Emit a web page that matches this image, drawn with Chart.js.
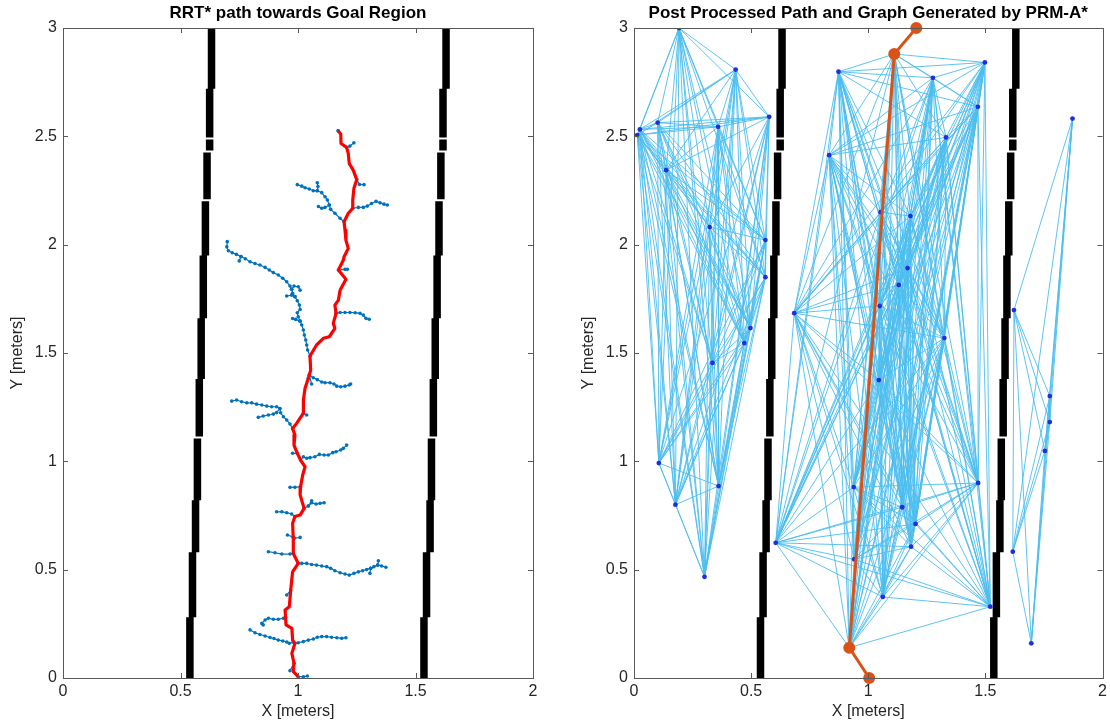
<!DOCTYPE html>
<html>
<head>
<meta charset="utf-8">
<script src="https://cdn.jsdelivr.net/npm/chart.js@4.4.1/dist/chart.umd.min.js"></script>
<style>
  body { margin: 0; background: #fff; }
  #wrap { position: relative; width: 1110px; height: 725px; }
  .pane { position: absolute; top: 0; width: 555px; height: 725px; }
</style>
</head>
<body>
<div id="wrap">
  <div class="pane" style="left:0"><canvas id="rrtChart" width="555" height="725"></canvas></div>
  <div class="pane" style="left:555px"><canvas id="prmChart" width="555" height="725"></canvas></div>
</div>
<script>
// ---- axes ----
var xTicks = [0, 0.5, 1, 1.5, 2];
var yTicks = [0, 0.5, 1, 1.5, 2, 2.5, 3];

// ---- obstacle walls (same map in both plots) ----
var wallSpans = [[2.72, 3.0], [2.495, 2.72], [2.435, 2.485], [2.21, 2.425], [1.95, 2.2],
                 [1.66, 1.95], [1.38, 1.66], [1.115, 1.38], [0.82, 1.105], [0.58, 0.82],
                 [0.28, 0.58], [0, 0.28]];
var wallLeftX  = [0.632, 0.624, 0.624, 0.613, 0.606, 0.597, 0.588, 0.580, 0.572, 0.564, 0.551, 0.540];
var wallRightX = [1.630, 1.617, 1.617, 1.608, 1.600, 1.592, 1.584, 1.576, 1.568, 1.562, 1.547, 1.536];

// ---- RRT* (left plot) ----
var rrtPath = [[1.171,2.526],[1.182,2.51],[1.183,2.467],[1.207,2.449],[1.214,2.42],[1.218,2.375],
  [1.235,2.344],[1.25,2.30],[1.238,2.26],[1.233,2.206],[1.233,2.168],[1.214,2.145],[1.196,2.106],
  [1.2,2.067],[1.204,2.02],[1.214,1.983],[1.196,1.944],[1.193,1.929],[1.172,1.883],[1.204,1.84],
  [1.179,1.79],[1.172,1.744],[1.157,1.721],[1.162,1.683],[1.15,1.637],[1.157,1.614],[1.133,1.575],
  [1.108,1.568],[1.079,1.537],[1.051,1.486],[1.054,1.421],[1.044,1.383],[1.03,1.337],[1.023,1.283],
  [1.023,1.222],[0.994,1.175],[0.977,1.152],[0.987,1.121],[0.983,1.075],[0.997,1.037],[1.011,1.006],
  [1.03,0.975],[1.02,0.937],[1.011,0.883],[1.009,0.845],[1.026,0.783],[1.009,0.752],[0.987,0.745],
  [0.977,0.714],[0.98,0.637],[0.98,0.575],[1.001,0.529],[0.977,0.49],[0.969,0.406],[0.963,0.329],
  [0.945,0.314],[0.949,0.245],[0.974,0.229],[0.977,0.175],[0.987,0.16],[0.974,0.114],[0.983,0.068],
  [0.98,0.029],[1.001,0.006]];

var rrtBranches = [
  [[1.171,2.526],[1.171,2.526]],
  [[1.207,2.449],[1.221,2.455],[1.238,2.47]],
  [[1.25,2.30],[1.262,2.278],[1.281,2.277]],
  [[1.233,2.168],[1.257,2.172],[1.278,2.172],[1.295,2.178],[1.313,2.19],[1.332,2.2],[1.349,2.193],[1.366,2.187],[1.38,2.183]],
  [[1.196,2.106],[1.179,2.122],[1.157,2.145],[1.139,2.163],[1.133,2.183],[1.125,2.206],[1.115,2.221],[1.101,2.24],
   [1.082,2.249],[1.065,2.249],[1.048,2.257],[1.03,2.263],[1.016,2.27],[0.997,2.277]],
  [[1.082,2.249],[1.085,2.268],[1.082,2.286]],
  [[1.133,2.183],[1.115,2.172],[1.101,2.168],[1.087,2.176]],
  [[1.051,1.486],[1.041,1.514],[1.037,1.537],[1.033,1.56],[1.027,1.583],[1.023,1.606],[1.016,1.629],[1.009,1.647],
   [1.001,1.667],[0.997,1.686],[1.009,1.701],[1.006,1.721],[0.997,1.741],[0.987,1.76],[0.977,1.776],[0.973,1.794],
   [0.966,1.809],[0.952,1.829],[0.935,1.845],[0.916,1.86],[0.895,1.871],[0.878,1.883],[0.86,1.895],[0.838,1.906],
   [0.817,1.913],[0.796,1.921],[0.776,1.935],[0.757,1.945],[0.738,1.955],[0.72,1.963],[0.704,1.972],[0.697,1.99],[0.699,2.014]],
  [[0.757,1.945],[0.75,1.925]],
  [[0.973,1.794],[0.983,1.809],[1.001,1.806],[1.009,1.79]],
  [[0.987,1.76],[0.973,1.767],[0.952,1.763]],
  [[1.009,1.647],[0.99,1.655],[0.977,1.659]],
  [[1.162,1.683],[1.179,1.687],[1.2,1.687],[1.221,1.687],[1.243,1.686],[1.264,1.683],[1.278,1.675],[1.289,1.66],[1.303,1.656]],
  [[1.172,1.883],[1.2,1.886],[1.21,1.886]],
  [[1.044,1.383],[1.048,1.398],[1.065,1.386],[1.082,1.377],[1.101,1.366],[1.115,1.363],[1.136,1.363],[1.153,1.357],
   [1.165,1.347],[1.182,1.344],[1.2,1.347],[1.218,1.352],[1.224,1.357]],
  [[1.048,1.398],[1.058,1.357]],
  [[0.977,1.152],[0.966,1.172],[0.952,1.191],[0.938,1.206],[0.926,1.224],[0.923,1.244],[0.909,1.252],[0.888,1.252],
   [0.867,1.255],[0.846,1.26],[0.824,1.264],[0.803,1.27],[0.782,1.27],[0.76,1.275],[0.739,1.283],[0.718,1.278]],
  [[0.923,1.244],[0.909,1.225],[0.895,1.218],[0.874,1.214],[0.852,1.209],[0.831,1.203]],
  [[1.023,1.222],[1.037,1.214]],
  [[1.011,1.006],[1.023,1.021],[1.037,1.014],[1.051,1.017],[1.072,1.021],[1.091,1.032],[1.111,1.029],[1.129,1.029],
   [1.148,1.04],[1.162,1.044],[1.182,1.052],[1.193,1.06],[1.207,1.075]],
  [[0.997,1.037],[0.977,1.037]],
  [[1.011,0.883],[0.987,0.88],[0.966,0.88]],
  [[1.026,0.783],[1.044,0.794],[1.058,0.809],[1.077,0.803],[1.094,0.806],[1.111,0.809]],
  [[1.044,0.794],[1.058,0.818]],
  [[0.987,0.745],[0.973,0.757],[0.952,0.763],[0.931,0.767],[0.909,0.767]],
  [[0.98,0.65],[0.955,0.66]],
  [[0.985,0.645],[1.009,0.649]],
  [[0.98,0.575],[0.966,0.572],[0.931,0.572],[0.902,0.578],[0.874,0.583]],
  [[1.001,0.529],[1.016,0.529],[1.037,0.529],[1.058,0.524],[1.079,0.521],[1.101,0.517],[1.122,0.514],[1.139,0.506],
   [1.157,0.495],[1.179,0.486],[1.2,0.48],[1.218,0.475],[1.238,0.483],[1.257,0.49],[1.275,0.495],[1.292,0.501],
   [1.309,0.506],[1.323,0.514],[1.339,0.521],[1.356,0.517],[1.374,0.511]],
  [[1.339,0.521],[1.342,0.541]],
  [[1.309,0.506],[1.306,0.483]],
  [[0.969,0.406],[0.952,0.383]],
  [[0.947,0.28],[0.938,0.276],[0.916,0.271],[0.895,0.271],[0.874,0.276],[0.86,0.268],[0.846,0.252],[0.852,0.245]],
  [[0.98,0.165],[0.963,0.16],[0.952,0.166],[0.935,0.171],[0.916,0.175],[0.898,0.182],[0.881,0.187],[0.86,0.194],
   [0.838,0.201],[0.817,0.209],[0.796,0.222]],
  [[0.987,0.16],[1.001,0.163],[1.023,0.168],[1.044,0.175],[1.065,0.18],[1.082,0.188],[1.101,0.191],[1.122,0.191],
   [1.143,0.188],[1.165,0.186],[1.186,0.183],[1.204,0.186]],
  [[0.983,0.068],[0.966,0.034]],
  [[1.001,0.006],[1.023,0.006],[1.04,0.009]]
];

// ---- PRM (right plot) nodes, grouped by free region ----
var prmNodesLeft = [[0.192,3.0],[0.434,2.808],[0.577,2.59],[0.359,2.544],[0.101,2.563],[0.025,2.532],
  [0.014,2.506],[0.137,2.344],[0.323,2.081],[0.561,2.021],[0.561,1.85],[0.497,1.615],[0.471,1.546],
  [0.335,1.454],[0.106,0.992],[0.177,0.80],[0.361,0.886],[0.301,0.467]];
var prmNodesMid = [[0.873,2.798],[1.111,2.88],[1.276,2.77],[1.498,2.841],[1.468,2.636],[1.332,2.495],
  [0.833,2.413],[1.053,2.15],[1.18,2.132],[1.168,1.892],[1.13,1.814],[1.049,1.717],[0.684,1.684],
  [1.325,1.569],[1.045,1.375],[0.938,0.881],[1.469,0.90],[1.145,0.788],[1.202,0.711],[0.605,0.624],
  [1.183,0.606],[0.94,0.548],[1.062,0.374],[1.521,0.329],[0.919,0.14]];
var prmNodesRight = [[1.872,2.582],[1.622,1.698],[1.775,1.301],[1.775,1.181],[1.754,1.048],
  [1.617,0.583],[1.696,0.16]];
var prmPath = [[1.004,0.0],[0.919,0.14],[1.111,2.88],[1.205,3.0]];

// ---- helpers ----
function joinPolylines(lines) {
  var out = [];
  lines.forEach(function(line, i) {
    if (i > 0) out.push({x: null, y: null});
    line.forEach(function(p) { out.push({x: p[0], y: p[1]}); });
  });
  return out;
}

function wallLines(xs) {
  return wallSpans.map(function(span, i) {
    return [[xs[i], span[0]], [xs[i], span[1]]];
  });
}

function graphEdges(nodes) {
  var lines = [];
  for (var i = 0; i < nodes.length; i++) {
    for (var j = i + 1; j < nodes.length; j++) {
      lines.push([nodes[i], nodes[j]]);
    }
  }
  return lines;
}

function toPoints(list) {
  return list.map(function(p) { return {x: p[0], y: p[1]}; });
}

var FONT = "'Liberation Sans', Arial, Helvetica, sans-serif";
var AXIS_COLOR = '#262626';

// box around the axes with inward ticks on all four sides (MATLAB style)
var axesBox = {
  id: 'axesBox',
  afterDatasetsDraw: function(chart) {
    var ctx = chart.ctx, a = chart.chartArea;
    var xs = chart.scales.x, ys = chart.scales.y;
    ctx.save();
    ctx.strokeStyle = '#595959';
    ctx.lineWidth = 1;
    ctx.strokeRect(Math.round(a.left) + 0.5, Math.round(a.top) + 0.5,
                   Math.round(a.right - a.left), Math.round(a.bottom - a.top));
    ctx.beginPath();
    xTicks.forEach(function(v) {
      var p = Math.round(xs.getPixelForValue(v)) + 0.5;
      ctx.moveTo(p, a.bottom); ctx.lineTo(p, a.bottom - 5);
      ctx.moveTo(p, a.top); ctx.lineTo(p, a.top + 5);
    });
    yTicks.forEach(function(v) {
      var p = Math.round(ys.getPixelForValue(v)) + 0.5;
      ctx.moveTo(a.left, p); ctx.lineTo(a.left + 5, p);
      ctx.moveTo(a.right, p); ctx.lineTo(a.right - 5, p);
    });
    ctx.stroke();
    ctx.restore();
  }
};

function plainLabel(v) { return String(v); }

function makeOptions(titleText, padLeft, padRight) {
  return {
    responsive: false,
    animation: false,
    devicePixelRatio: 1,
    layout: { padding: { left: padLeft, right: padRight, top: 0, bottom: 0 } },
    plugins: {
      legend: { display: false },
      tooltip: { enabled: false },
      title: {
        display: true,
        text: titleText,
        fullSize: false,
        color: '#000',
        font: { family: FONT, size: 17, weight: 'bold' },
        padding: { top: 3, bottom: 4.6 }
      }
    },
    scales: {
      x: {
        type: 'linear', min: 0, max: 2,
        afterBuildTicks: function(s) { s.ticks = xTicks.map(function(v) { return {value: v}; }); },
        afterFit: function(s) { s.height = 47; s.paddingRight = 0; },
        grid: { display: false, drawTicks: false },
        border: { display: false },
        ticks: { color: AXIS_COLOR, padding: 4.4, maxRotation: 0, callback: plainLabel,
                 font: { family: FONT, size: 16 } },
        title: { display: true, text: 'X [meters]', color: AXIS_COLOR,
                 font: { family: FONT, size: 16 }, padding: { top: 0, bottom: 3.4 } }
      },
      y: {
        type: 'linear', min: 0, max: 3,
        afterBuildTicks: function(s) { s.ticks = yTicks.map(function(v) { return {value: v}; }); },
        afterFit: function(s) { s.width = 63; },
        grid: { display: false, drawTicks: false },
        border: { display: false },
        ticks: { color: AXIS_COLOR, padding: 6, callback: plainLabel,
                 font: { family: FONT, size: 16 } },
        title: { display: true, text: 'Y [meters]', color: AXIS_COLOR,
                 font: { family: FONT, size: 16 }, padding: { top: 8.4, bottom: 0 } }
      }
    }
  };
}

function wallDataset(xs) {
  return {
    data: joinPolylines(wallLines(xs)),
    showLine: true, borderColor: '#000', borderWidth: 7.5, borderCapStyle: 'butt',
    pointRadius: 0, spanGaps: false
  };
}

// ---- left: RRT* ----
new Chart(document.getElementById('rrtChart'), {
  type: 'scatter',
  data: {
    datasets: [
      { // path
        data: toPoints(rrtPath),
        showLine: true, borderColor: '#FF0000', borderWidth: 3.2, pointRadius: 0,
        borderJoinStyle: 'round'
      },
      { // tree
        data: joinPolylines(rrtBranches),
        showLine: true, borderColor: '#0072BD', borderWidth: 1.2,
        pointRadius: 1.8, pointBackgroundColor: '#0072BD', pointBorderWidth: 0, spanGaps: false
      },
      wallDataset(wallLeftX),
      wallDataset(wallRightX)
    ]
  },
  options: makeOptions('RRT* path towards Goal Region', 0, 22),
  plugins: [axesBox]
});

// ---- right: PRM graph ----
var prmEdges = graphEdges(prmNodesLeft).concat(graphEdges(prmNodesMid), graphEdges(prmNodesRight));
var prmNodes = prmNodesLeft.concat(prmNodesMid, prmNodesRight);

new Chart(document.getElementById('prmChart'), {
  type: 'scatter',
  data: {
    datasets: [
      { // post processed path
        data: toPoints(prmPath),
        showLine: true, borderColor: '#D95319', borderWidth: 3, clip: false,
        pointRadius: 4.5, pointBackgroundColor: '#D95319', pointBorderColor: '#D95319'
      },
      { // nodes
        data: toPoints(prmNodes),
        pointRadius: 2.4, pointBackgroundColor: '#1f2fe0', pointBorderWidth: 0
      },
      { // edges
        data: joinPolylines(prmEdges),
        showLine: true, borderColor: 'rgba(77,190,238,0.9)', borderWidth: 1,
        pointRadius: 0, spanGaps: false
      },
      wallDataset(wallLeftX),
      wallDataset(wallRightX)
    ]
  },
  options: makeOptions('Post Processed Path and Graph Generated by PRM-A*', 16, 5),
  plugins: [axesBox]
});
</script>
</body>
</html>
